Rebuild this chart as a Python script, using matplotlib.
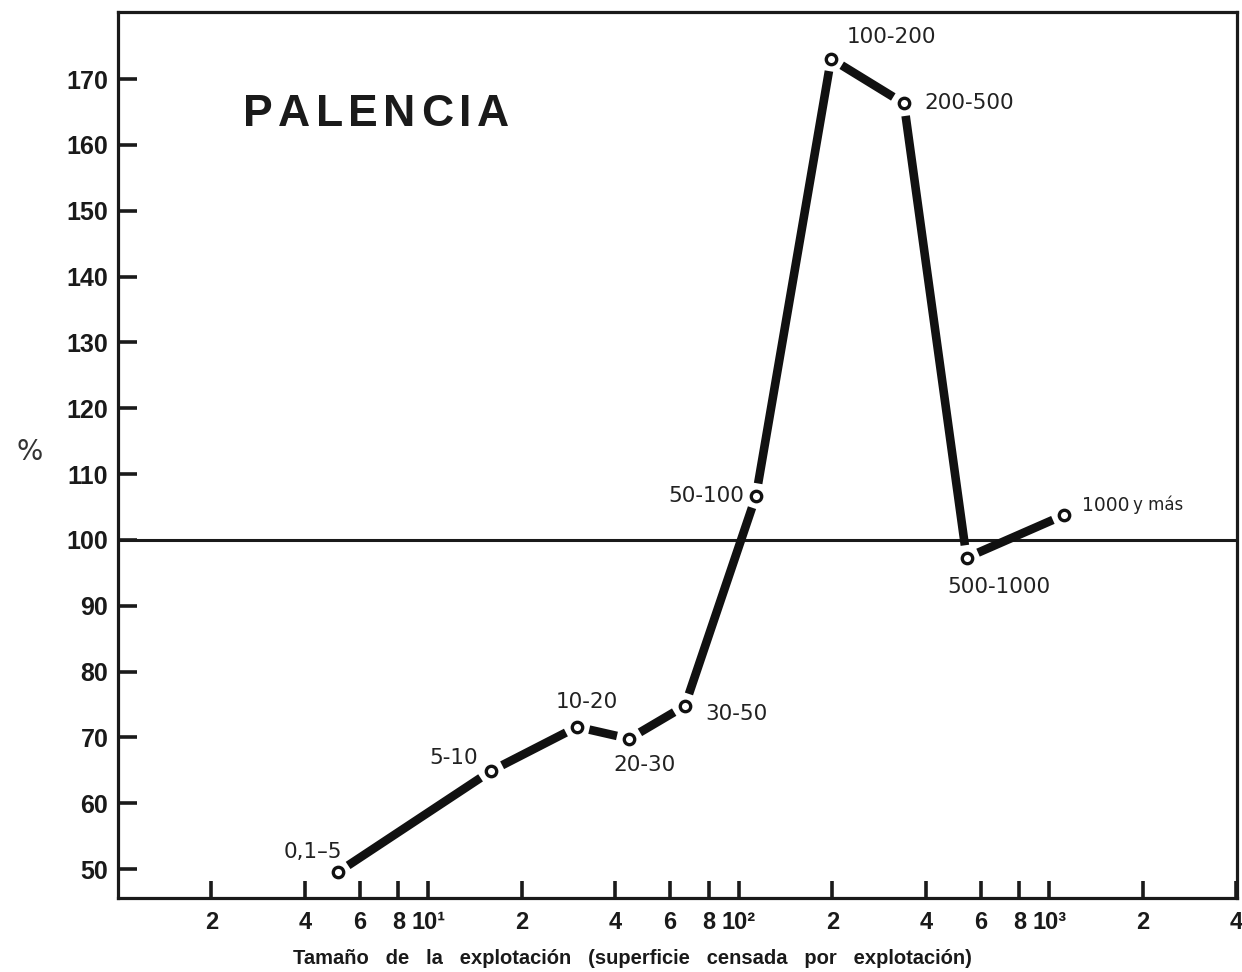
import matplotlib
matplotlib.use("Agg")
import numpy as np
import matplotlib.pyplot as plt
from matplotlib.ticker import FixedLocator, NullLocator

# Farm size classes (ha) plotted at their representative size on a log axis
classes = ["0,1–5", "5-10", "10-20", "20-30", "30-50", "50-100",
           "100-200", "200-500", "500-1000"]
size_ha = [5.1, 15.9, 30.1, 44.3, 67.0, 113.5, 198.0, 340.0, 541.0, 1117.0]
pct = [49.5, 64.9, 71.6, 69.8, 74.8, 106.7, 173.1, 166.3, 97.3, 103.8]
last_class = ("1000", "y más")

# label offsets in pixels (dx, dy) and horizontal alignment for each class
label_pos = [(-25, 20, "center"), (-37, 13, "center"), (10, 25, "center"),
             (15, -26, "center"), (20, -8, "left"), (-12, 0, "right"),
             (16, 22, "left"), (20, 0, "left"), (32, -29, "center")]

xticks = [2, 4, 6, 8, 10, 20, 40, 60, 80, 100, 200, 400, 600, 800, 1000,
          2000, 4000]
xtick_labels = ["2", "4", "6", "8", "10¹", "2", "4", "6", "8", "10²",
                "2", "4", "6", "8", "10³", "2", "4"]
yticks = [50, 60, 70, 80, 90, 100, 110, 120, 130, 140, 150, 160, 170]

title = "PALENCIA"

fig = plt.figure(figsize=(12.42, 9.72), dpi=100)
ax = fig.add_axes([118 / 1242, 1 - 898 / 972, (1237 - 118) / 1242,
                   (898 - 12) / 972])
ax.set_xscale("log")
ax.set_xlim(1.0, 4020)
ax.set_ylim(45.6, 180.2)

for side in ax.spines.values():
    side.set_linewidth(2.3)
    side.set_color("#1a1a1a")

ax.axhline(100, color="#1a1a1a", lw=2.2, zorder=1)

ax.xaxis.set_major_locator(FixedLocator(xticks))
ax.xaxis.set_minor_locator(NullLocator())
ax.set_xticklabels(xtick_labels, family="Liberation Sans", weight="bold",
                   fontsize=17)
ax.yaxis.set_major_locator(FixedLocator(yticks))
ax.set_yticklabels([str(v) for v in yticks], family="Liberation Sans",
                   weight="bold", fontsize=18)
ax.tick_params(axis="x", direction="in", length=12, width=2.6, pad=9,
               colors="#1a1a1a")
ax.tick_params(axis="y", direction="in", length=14, width=2.6, pad=7,
               colors="#1a1a1a")
ax.tick_params(top=False, right=False)

# thick profile segments, each stopped short of the open circles
gap_px = 12.5
pts = ax.transData.transform(np.column_stack([size_ha, pct]))
inv = ax.transData.inverted()
for p0, p1 in zip(pts[:-1], pts[1:]):
    d = p1 - p0
    u = d / np.hypot(*d)
    seg = inv.transform(np.vstack([p0 + u * gap_px, p1 - u * gap_px]))
    ax.plot(seg[:, 0], seg[:, 1], color="#111111", lw=6.2,
            solid_capstyle="butt", zorder=3)
ax.plot(size_ha, pct, ls="none", marker="o", ms=7.5, mfc="white",
        mec="#111111", mew=2.4, zorder=5)

for name, x, y, (dx, dy, ha) in zip(classes, size_ha, pct, label_pos):
    ax.annotate(name, (x, y), xytext=(dx, dy), textcoords="offset pixels",
                ha=ha, va="center", fontsize=15.5, family="DejaVu Sans",
                color="#222222", zorder=6)
ax.annotate(last_class[0], (size_ha[-1], pct[-1]), xytext=(18, 9),
            textcoords="offset pixels", ha="left", va="center",
            fontsize=13.5, family="DejaVu Sans", color="#222222", zorder=6)
ax.annotate(last_class[1], (size_ha[-1], pct[-1]), xytext=(69, 10),
            textcoords="offset pixels", ha="left", va="center",
            fontsize=12, family="DejaVu Sans", color="#222222", zorder=6)

# spaced-out heading, one letter at a time
renderer = fig.canvas.get_renderer()
x_px, y_px, tracking = 243.0, 972 - 115.0, 5.5
for ch in title:
    t = fig.text(x_px / 1242, y_px / 972, ch, family="Liberation Sans",
                 weight="bold", fontsize=32, color="#1a1a1a",
                 ha="left", va="center")
    x_px += t.get_window_extent(renderer).width + tracking

fig.text(30 / 1242, 1 - 452 / 972, "%", fontsize=20, family="DejaVu Sans",
         color="#333333", ha="center", va="center")
fig.text(632 / 1242, 1 - 958 / 972,
         "Tamaño   de   la   explotación   (superficie   censada   por   explotación)",
         family="Liberation Sans", weight="bold", fontsize=14.5,
         color="#1a1a1a", ha="center", va="center")

fig.savefig("out.png", dpi=100, facecolor="white")
